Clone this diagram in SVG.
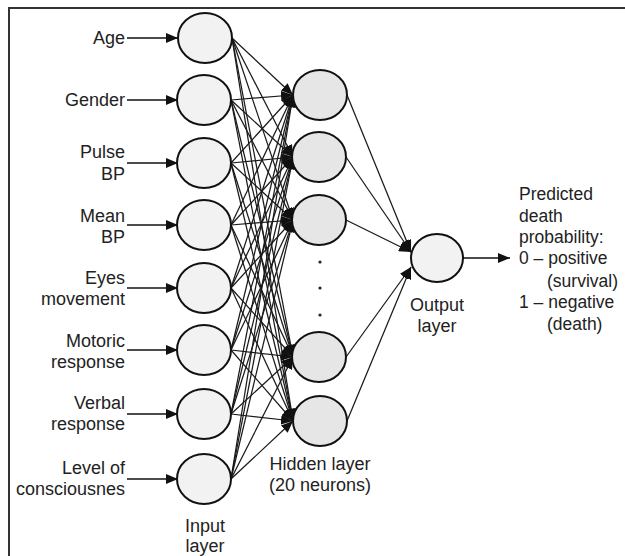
<svg xmlns="http://www.w3.org/2000/svg" width="625" height="556" viewBox="0 0 625 556">
<defs>
<marker id="ah" markerUnits="userSpaceOnUse" markerWidth="12" markerHeight="10" refX="12" refY="5" orient="auto"><path d="M0,0 L12,5 L0,10 z" fill="#111"/></marker>
<marker id="ahs" markerUnits="userSpaceOnUse" markerWidth="12" markerHeight="10" refX="12" refY="5" orient="auto"><path d="M0,0 L12,5 L0,10 z" fill="#111"/></marker>
<style>
text{font-family:"Liberation Sans",Arial,sans-serif;font-size:18px;fill:#222}
.r{font-size:17.5px}
.l{text-anchor:end}
.c{text-anchor:middle}
.in{fill:#f2f2f2;stroke:#111;stroke-width:2}
.hid{fill:#e6e6e6;stroke:#111;stroke-width:2}
.e{stroke:#1a1a1a;stroke-width:1.25;fill:none;marker-end:url(#ahs)}
.a{stroke:#111;stroke-width:1.5;fill:none;marker-end:url(#ah)}
</style>
</defs>
<rect width="625" height="556" fill="#fff"/>
<path d="M9,556 L9,8 L625,8" fill="none" stroke="#333" stroke-width="2"/>
<g id="connectors">
<g id="in-arrows">
<line class="a" x1="127" y1="38" x2="178" y2="38"/>
<line class="a" x1="127" y1="100" x2="178" y2="100"/>
<line class="a" x1="127" y1="163" x2="178" y2="163"/>
<line class="a" x1="127" y1="225" x2="178" y2="225"/>
<line class="a" x1="127" y1="288" x2="178" y2="288"/>
<line class="a" x1="127" y1="350" x2="178" y2="350"/>
<line class="a" x1="127" y1="414" x2="178" y2="414"/>
<line class="a" x1="127" y1="479" x2="178" y2="479"/>
</g>
<g id="in-hidden">
<line class="e" x1="232" y1="38" x2="293" y2="95"/><line class="e" x1="232" y1="38" x2="293" y2="157"/><line class="e" x1="232" y1="38" x2="293" y2="220"/><line class="e" x1="232" y1="38" x2="293" y2="357"/><line class="e" x1="232" y1="38" x2="293" y2="421"/>
<line class="e" x1="231" y1="100" x2="293" y2="95"/><line class="e" x1="231" y1="100" x2="293" y2="157"/><line class="e" x1="231" y1="100" x2="293" y2="220"/><line class="e" x1="231" y1="100" x2="293" y2="357"/><line class="e" x1="231" y1="100" x2="293" y2="421"/>
<line class="e" x1="231" y1="163" x2="293" y2="95"/><line class="e" x1="231" y1="163" x2="293" y2="157"/><line class="e" x1="231" y1="163" x2="293" y2="220"/><line class="e" x1="231" y1="163" x2="293" y2="357"/><line class="e" x1="231" y1="163" x2="293" y2="421"/>
<line class="e" x1="231" y1="225" x2="293" y2="95"/><line class="e" x1="231" y1="225" x2="293" y2="157"/><line class="e" x1="231" y1="225" x2="293" y2="220"/><line class="e" x1="231" y1="225" x2="293" y2="357"/><line class="e" x1="231" y1="225" x2="293" y2="421"/>
<line class="e" x1="231" y1="288" x2="293" y2="95"/><line class="e" x1="231" y1="288" x2="293" y2="157"/><line class="e" x1="231" y1="288" x2="293" y2="220"/><line class="e" x1="231" y1="288" x2="293" y2="357"/><line class="e" x1="231" y1="288" x2="293" y2="421"/>
<line class="e" x1="231" y1="350" x2="293" y2="95"/><line class="e" x1="231" y1="350" x2="293" y2="157"/><line class="e" x1="231" y1="350" x2="293" y2="220"/><line class="e" x1="231" y1="350" x2="293" y2="357"/><line class="e" x1="231" y1="350" x2="293" y2="421"/>
<line class="e" x1="231" y1="414" x2="293" y2="95"/><line class="e" x1="231" y1="414" x2="293" y2="157"/><line class="e" x1="231" y1="414" x2="293" y2="220"/><line class="e" x1="231" y1="414" x2="293" y2="357"/><line class="e" x1="231" y1="414" x2="293" y2="421"/>
<line class="e" x1="231" y1="479" x2="293" y2="95"/><line class="e" x1="231" y1="479" x2="293" y2="157"/><line class="e" x1="231" y1="479" x2="293" y2="220"/><line class="e" x1="231" y1="479" x2="293" y2="357"/><line class="e" x1="231" y1="479" x2="293" y2="421"/>
</g>
<g id="hidden-out">
<line class="e" x1="347" y1="95" x2="411" y2="252"/>
<line class="e" x1="346" y1="157" x2="411" y2="252"/>
<line class="e" x1="346" y1="220" x2="411" y2="252"/>
<line class="e" x1="346" y1="357" x2="411" y2="267"/>
<line class="e" x1="347" y1="421" x2="411" y2="267"/>
</g>
<line class="a" x1="463" y1="258" x2="510" y2="258"/>
</g>
<g id="input-layer">
<g id="n-age"><ellipse class="in" cx="205" cy="38" rx="27" ry="25"/><text class="l" x="125" y="44">Age</text></g>
<g id="n-gender"><ellipse class="in" cx="204" cy="100" rx="27" ry="25"/><text class="l" x="125" y="106">Gender</text></g>
<g id="n-pulse"><ellipse class="in" cx="204" cy="163" rx="27" ry="25"/><text class="l" x="125" y="158">Pulse</text><text class="l" x="125" y="180">BP</text></g>
<g id="n-mean"><ellipse class="in" cx="204" cy="225" rx="27" ry="25"/><text class="l" x="125" y="222">Mean</text><text class="l" x="125" y="243">BP</text></g>
<g id="n-eyes"><ellipse class="in" cx="204" cy="288" rx="27" ry="25"/><text class="l" x="125" y="284">Eyes</text><text class="l" x="125" y="305">movement</text></g>
<g id="n-motoric"><ellipse class="in" cx="204" cy="350" rx="27" ry="25"/><text class="l" x="125" y="347">Motoric</text><text class="l" x="125" y="368">response</text></g>
<g id="n-verbal"><ellipse class="in" cx="204" cy="414" rx="27" ry="25"/><text class="l" x="125" y="409">Verbal</text><text class="l" x="125" y="430">response</text></g>
<g id="n-level"><ellipse class="in" cx="204" cy="479" rx="27" ry="25"/><text class="l" x="125" y="474">Level of</text><text class="l" x="125" y="495">consciousnes</text></g>
<text class="c" x="205" y="532">Input</text><text class="c" x="205" y="552">layer</text>
</g>
<g id="hidden-layer">
<g id="h1"><ellipse class="hid" cx="320" cy="95" rx="27" ry="25"/></g>
<g id="h2"><ellipse class="hid" cx="319" cy="157" rx="27" ry="25"/></g>
<g id="h3"><ellipse class="hid" cx="319" cy="220" rx="27" ry="25"/></g>
<g id="h4"><ellipse class="hid" cx="319" cy="357" rx="27" ry="25"/></g>
<g id="h5"><ellipse class="hid" cx="320" cy="421" rx="27" ry="25"/></g>
<circle cx="320" cy="262" r="1.6" fill="#222"/><circle cx="320" cy="288" r="1.6" fill="#222"/><circle cx="320" cy="315" r="1.6" fill="#222"/>
<text class="c" x="320" y="470">Hidden layer</text><text class="c" x="320" y="491">(20 neurons)</text>
</g>
<g id="output-layer">
<ellipse class="in" cx="437" cy="258" rx="26" ry="24"/>
<text class="c" x="437" y="311">Output</text><text class="c" x="437" y="332">layer</text>
</g>
<g id="result">
<text class="r" x="519" y="200">Predicted</text>
<text class="r" x="519" y="222">death</text>
<text class="r" x="519" y="243">probability:</text>
<text class="r" x="519" y="264">0 – positive</text>
<text class="r" x="547" y="287">(survival)</text>
<text class="r" x="519" y="308">1 – negative</text>
<text class="r" x="547" y="330">(death)</text>
</g>
</svg>
